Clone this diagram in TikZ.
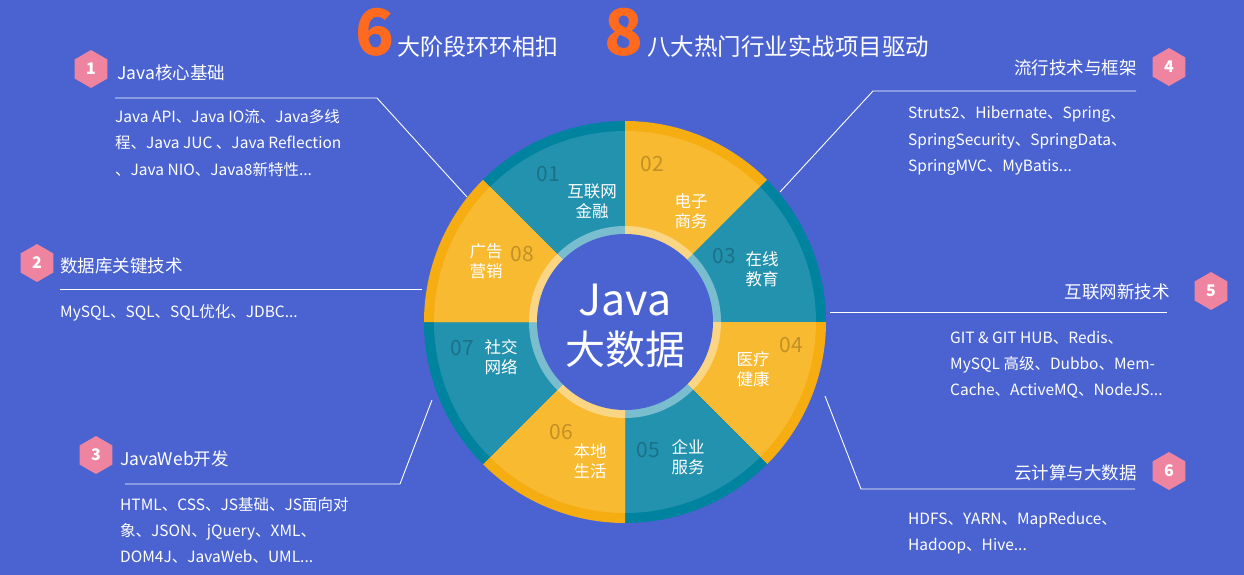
\documentclass[tikz,border=0pt]{standalone}
\usepackage{fontspec}
\setmainfont{Noto Sans CJK SC}
\usetikzlibrary{shapes.geometric}
\definecolor{bg}{HTML}{4A63D0}
\definecolor{teal}{HTML}{2292AE}
\definecolor{dteal}{HTML}{00839E}
\definecolor{yel}{HTML}{F8BA31}
\definecolor{dyel}{HTML}{F6AD12}
\definecolor{pink}{HTML}{EE84A0}
\definecolor{org}{HTML}{FF6A1F}
\tikzset{
 hexa/.style={regular polygon,regular polygon sides=6,shape border rotate=30,fill=pink,minimum size=38pt,inner sep=0pt,text=white,font=\fontsize{16}{16}\selectfont\bfseries},
 ttl/.style={text=white,font=\fontsize{17.5}{18}\selectfont,inner sep=0pt},
 bdy/.style={text=white,font=\fontsize{15.5}{16}\selectfont,inner sep=0pt,anchor=base west},
 lead/.style={draw=white,line width=0.9pt},
 sl/.style={text=white,font=\fontsize{16.5}{20}\selectfont,align=center,inner sep=0pt},
 num/.style={text=black,opacity=0.22,font=\fontsize{21}{21}\selectfont,inner sep=0pt}
}
\begin{document}
\begin{tikzpicture}[x=1pt,y=-1pt]
\fill[bg] (0,0) rectangle (1244,575);
\useasboundingbox (0,0) rectangle (1244,575);
% wheel
\begin{scope}[shift={(625,322)},yscale=-1]
\foreach \a/\m/\d in {90/teal/dteal,45/yel/dyel,0/teal/dteal,-45/yel/dyel,-90/teal/dteal,-135/yel/dyel,180/teal/dteal,135/yel/dyel}{
 \fill[\d] (0,0) -- (\a:201) arc[start angle=\a,end angle=\a+45,radius=201] -- cycle;
 \fill[\m] (0,0) -- (\a:191) arc[start angle=\a,end angle=\a+45,radius=191] -- cycle;
}
\fill[white,opacity=0.4] (0,0) circle (96);
\fill[bg] (0,0) circle (88);
\end{scope}
\node[text=white,font=\fontsize{43}{43}\selectfont,inner sep=0pt] (j) at (625,300) {Java};
\node[text=white,font=\fontsize{40}{40}\selectfont,inner sep=0pt] (d) at (625,349) {大数据};
% sector labels
\node[num] (n1) at (548,174) {01}; \node[sl] (s1) at (592,201) {互联网\\金融};
\node[num] (n2) at (652,164) {02}; \node[sl] (s2) at (691,211) {电子\\商务};
\node[num] (n3) at (724,256) {03}; \node[sl] (s3) at (762,269) {在线\\教育};
\node[num] (n4) at (791,345) {04}; \node[sl] (s4) at (753,369) {医疗\\健康};
\node[num] (n5) at (648,450) {05}; \node[sl] (s5) at (688,457) {企业\\服务};
\node[num] (n6) at (561,432) {06}; \node[sl] (s6) at (590,461) {本地\\生活};
\node[num] (n7) at (462,348) {07}; \node[sl] (s7) at (501,357) {社交\\网络};
\node[num] (n8) at (522,254) {08}; \node[sl] (s8) at (486,261) {广告\\营销};
% title
\node[text=org,font=\fontsize{64}{64}\selectfont\bfseries\itshape,inner sep=0pt] (six) at (375,32) {6};
\node[text=white,font=\fontsize{23}{23}\selectfont,inner sep=0pt,anchor=west] (t1) at (397,47) {大阶段环环相扣};
\node[text=org,font=\fontsize{64}{64}\selectfont\bfseries\itshape,inner sep=0pt] (eight) at (624,32) {8};
\node[text=white,font=\fontsize{23.5}{23}\selectfont,inner sep=0pt,anchor=west] (t2) at (647,47) {八大热门行业实战项目驱动};
% item 1
\node[hexa] (h1) at (91,69) {1};
\node[ttl,anchor=west] (l1) at (117,73) {Java核心基础};
\coordinate (a1) at (115,98); \coordinate (b1) at (377,98); \coordinate (c1) at (467,197);
\draw[lead] (a1) -- (b1) -- (c1);
\node[bdy] (p1a) at (115,123) {Java API、Java IO流、Java多线};
\node[bdy] (p1b) at (115,149) {程、Java JUC 、Java Reflection};
\node[bdy] (p1c) at (115,175) {、Java NIO、Java8新特性...};
% item 2
\node[hexa] (h2) at (37,263) {2};
\node[ttl,anchor=west] (l2) at (60,266) {数据库关键技术};
\coordinate (a2) at (60,289); \coordinate (b2) at (422,289);
\draw[lead] (a2) -- (b2);
\node[bdy] (p2a) at (60,317) {MySQL、SQL、SQL优化、JDBC...};
% item 3
\node[hexa] (h3) at (96,455) {3};
\node[ttl,anchor=west] (l3) at (120,459) {JavaWeb开发};
\coordinate (a3) at (125,484); \coordinate (b3) at (400,484); \coordinate (c3) at (432,400);
\draw[lead] (a3) -- (b3) -- (c3);
\node[bdy] (p3a) at (120,510) {HTML、CSS、JS基础、JS面向对};
\node[bdy] (p3b) at (120,536) {象、JSON、jQuery、XML、};
\node[bdy] (p3c) at (120,562) {DOM4J、JavaWeb、UML...};
% item 4
\node[hexa] (h4) at (1169,67) {4};
\node[ttl,anchor=east] (l4) at (1137,68) {流行技术与框架};
\coordinate (a4) at (1136,91); \coordinate (b4) at (873,91); \coordinate (c4) at (780,192);
\draw[lead] (a4) -- (b4) -- (c4);
\node[bdy] (p4a) at (908,119) {Struts2、Hibernate、Spring、};
\node[bdy] (p4b) at (908,145) {SpringSecurity、SpringData、};
\node[bdy] (p4c) at (908,171) {SpringMVC、MyBatis...};
% item 5
\node[hexa] (h5) at (1211,291) {5};
\node[ttl,anchor=east] (l5) at (1170,292) {互联网新技术};
\coordinate (a5) at (1167,312); \coordinate (b5) at (830,312);
\draw[lead] (a5) -- (b5);
\node[bdy] (p5a) at (950,343) {GIT \& GIT HUB、Redis、};
\node[bdy] (p5b) at (950,369) {MySQL 高级、Dubbo、Mem-};
\node[bdy] (p5c) at (950,395) {Cache、ActiveMQ、NodeJS...};
% item 6
\node[hexa] (h6) at (1169,471) {6};
\node[ttl,anchor=east] (l6) at (1137,473) {云计算与大数据};
\coordinate (a6) at (1135,489); \coordinate (b6) at (861,489); \coordinate (c6) at (825,396);
\draw[lead] (a6) -- (b6) -- (c6);
\node[bdy] (p6a) at (908,524) {HDFS、YARN、MapReduce、};
\node[bdy] (p6b) at (908,550) {Hadoop、Hive...};
\end{tikzpicture}
\end{document}
